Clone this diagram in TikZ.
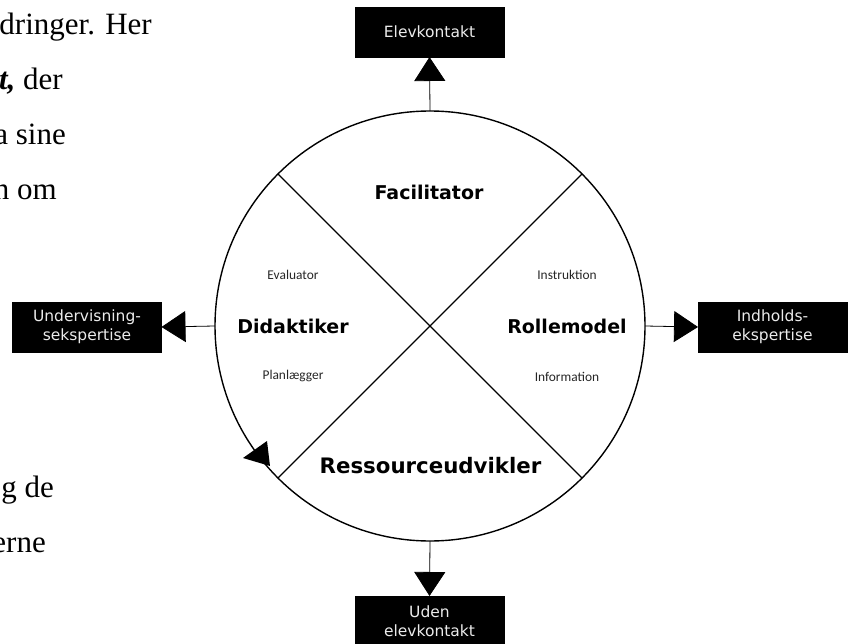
\documentclass[tikz,border=0pt]{standalone}
\usepackage{fontspec}
\setmainfont{Liberation Serif}
\newfontfamily\labelfont{DejaVu Sans}
\newfontfamily\taskfont{Carlito}
\usetikzlibrary{arrows.meta}

\tikzset{
  bodytext/.style={anchor=base east, inner sep=0pt, font=\fontsize{31}{36}\selectfont},
  blackbox/.style={rectangle, fill=black, draw=black, minimum width=149pt, minimum height=50pt,
    inner sep=0pt, outer sep=0pt, align=center, text=white!92!black,
    font=\labelfont\fontsize{15.5}{19}\selectfont},
  role/.style={inner sep=0pt, font=\labelfont\bfseries\fontsize{19}{22}\selectfont},
  task/.style={inner sep=0pt, text=black!85, font=\taskfont\fontsize{13.4}{16}\selectfont},
  conn/.style={line width=0.8pt, -{Triangle[length=24pt,width=31pt]}},
  divider/.style={line width=1.4pt},
}

\begin{document}
\begin{tikzpicture}[x=1pt,y=-1pt]
\useasboundingbox (0,0) rectangle (848,644);

% running paragraph text beside the figure
\node[bodytext] (p1) at (152,35) {dringer. Her};
\node[bodytext] (p2) at (63,90) {\textbf{\textit{t,}} der};
\node[bodytext] (p3) at (66,145) {a sine};
\node[bodytext] (p4) at (57,200) {n om};
\node[bodytext] (p5) at (54,497) {g de};
\node[bodytext] (p6) at (46,552) {erne};

% the role wheel
\node[circle, draw, line width=1.4pt, minimum size=430pt, inner sep=0pt, outer sep=0pt] (wheel) at (430,326) {};
\draw[divider] (wheel.135) -- (wheel.-45);
\draw[divider] (wheel.45) -- (wheel.225);

% roles in the four quadrants
\node[role] (fac) at (429,192) {Facilitator};
\node[role] (did) at (293,326) {Didaktiker};
\node[role] (rol) at (567,326) {Rollemodel};
\node[role, font=\labelfont\bfseries\fontsize{21.3}{24}\selectfont] (res) at (430.5,466) {Ressourceudvikler};

% tasks belonging to the side roles
\node[task] (eva) at (293,275) {Evaluator};
\node[task] (pla) at (293,376) {Planlægger};
\node[task] (ins) at (567,275) {Instruktion};
\node[task] (inf) at (567,377) {Information};

% outer dimensions
\node[blackbox] (elev)  at (429.5,32)  {Elevkontakt};
\node[blackbox] (underv) at (87,327)   {Undervisning-\\sekspertise};
\node[blackbox] (indh)  at (772.5,327) {Indholds-\\ekspertise};
\node[blackbox] (uden)  at (429.5,621) {Uden\\elevkontakt};

\draw[conn] (wheel.north) -- (elev.south);
\draw[conn] (wheel.west)  -- (underv.east);
\draw[conn] (wheel.east)  -- (indh.west);
\draw[conn] (wheel.south) -- (uden.north);

% direction marker on the rim
\fill (243,458) -- (267,441) -- (270,466) -- cycle;
\end{tikzpicture}
\end{document}
